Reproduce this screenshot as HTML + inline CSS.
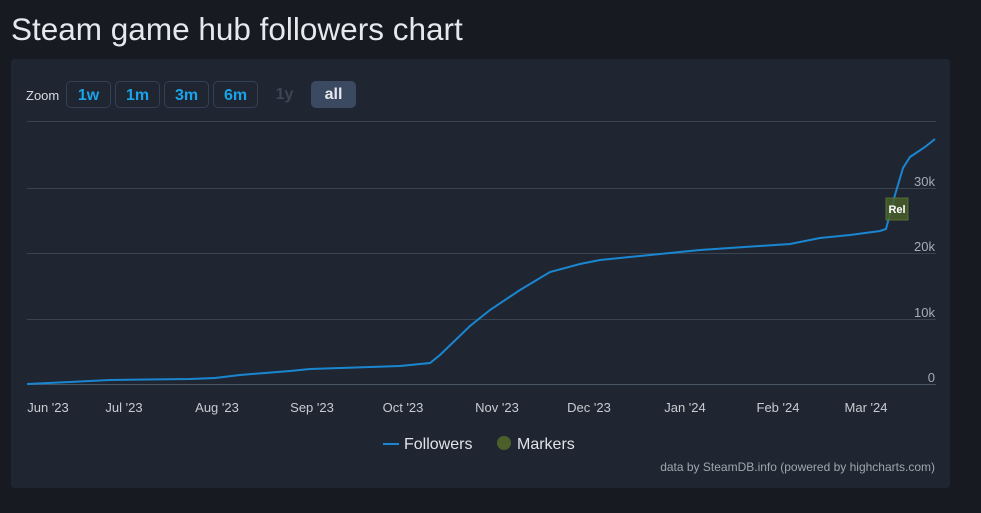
<!DOCTYPE html>
<html><head><meta charset="utf-8"><style>
body{margin:0;width:981px;height:513px;background:#171a21;font-family:"Liberation Sans",sans-serif;overflow:hidden;position:relative}
h1{position:absolute;left:11px;top:11px;margin:0;font-weight:normal;font-size:31.5px;color:#e6e8eb}
.panel{position:absolute;left:11px;top:59px;width:939px;height:429px;background:#1f2631;border-radius:4px}
.btn{position:absolute;top:81px;height:27px;border:1px solid #344054;border-radius:5px;box-sizing:border-box;color:#1aa3e8;font-weight:bold;font-size:16px;text-align:center;line-height:27px}
</style></head><body>
<h1>Steam game hub followers chart</h1>
<div class="panel"></div>
<div style="position:absolute;left:26px;top:88px;font-size:13px;color:#d8dce2">Zoom</div>
<div class="btn" style="left:66px;width:45px">1w</div>
<div class="btn" style="left:115px;width:45px">1m</div>
<div class="btn" style="left:164px;width:45px">3m</div>
<div class="btn" style="left:213px;width:45px">6m</div>
<div class="btn" style="left:262px;width:45px;border:none;color:#3c4657">1y</div>
<div class="btn" style="left:311px;width:45px;border:none;background:#3b4a60;color:#e6e8eb">all</div>
<svg width="981" height="513" style="position:absolute;left:0;top:0" font-family="Liberation Sans, sans-serif">
<g stroke="#3a4350" stroke-width="1">
<line x1="27" x2="936" y1="121.5" y2="121.5"/><line x1="27" x2="936" y1="188.5" y2="188.5"/>
<line x1="27" x2="936" y1="253.5" y2="253.5"/><line x1="27" x2="936" y1="319.5" y2="319.5"/>
<line x1="27" x2="936" y1="384.5" y2="384.5" stroke="#4a5566"/>
</g>
<g fill="#a7adb6" font-size="13" text-anchor="end">
<text x="935" y="186">30k</text><text x="935" y="251">20k</text><text x="935" y="317">10k</text><text x="935" y="382">0</text>
</g>
<g fill="#c8ccd2" font-size="13" text-anchor="middle">
<text x="48" y="412">Jun '23</text><text x="124" y="412">Jul '23</text><text x="217" y="412">Aug '23</text>
<text x="312" y="412">Sep '23</text><text x="403" y="412">Oct '23</text><text x="497" y="412">Nov '23</text>
<text x="589" y="412">Dec '23</text><text x="685" y="412">Jan '24</text><text x="778" y="412">Feb '24</text>
<text x="866" y="412">Mar '24</text>
</g>
<polyline fill="none" stroke="#1a86d0" stroke-width="2" points="27,384 70,382 110,380 190,379 215,378 240,375 290,371 310,369 400,366 430,363 440,355 470,326 490,310 520,290 550,272 580,264 600,260 640,256 700,250 790,244 820,238 850,235 880,231 886,229 895,195 903,168 910,157 925,147 935,139"/>
<rect x="886" y="198" width="22" height="22" fill="#4a5f2a" opacity="0.85" stroke="#5e7a34"/>
<text x="897" y="213" fill="#fff" font-size="11" font-weight="bold" text-anchor="middle">Rel</text>
<line x1="383" x2="399" y1="444" y2="444" stroke="#1a86d0" stroke-width="2"/>
<text x="404" y="449" fill="#e0e3e7" font-size="16">Followers</text>
<circle cx="504" cy="443" r="7" fill="#4a5f2a"/>
<text x="517" y="449" fill="#e0e3e7" font-size="16">Markers</text>
<text x="935" y="471" fill="#a0a6ae" font-size="12" text-anchor="end">data by SteamDB.info (powered by highcharts.com)</text>
</svg>
</body></html>
